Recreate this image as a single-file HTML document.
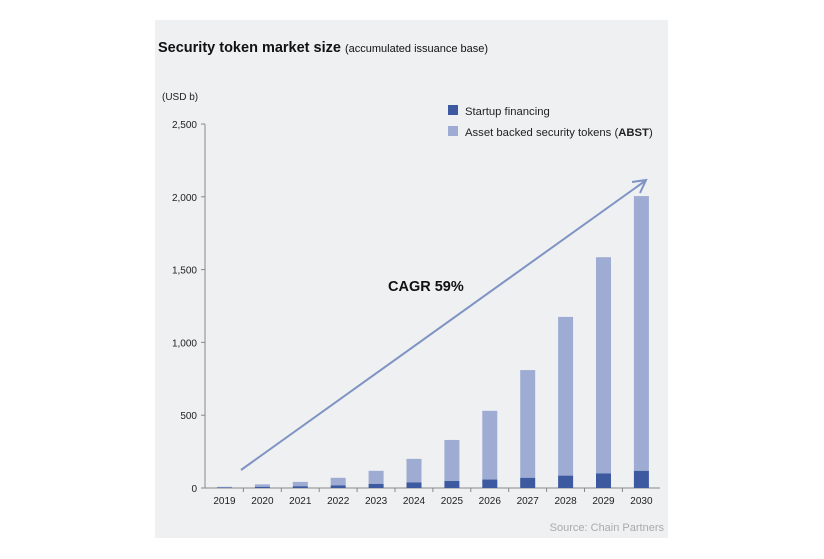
<!DOCTYPE html>
<html><head><meta charset="utf-8"><style>
body{margin:0;background:#fff;width:824px;height:554px;overflow:hidden;font-family:"Liberation Sans",sans-serif}
</style></head><body>
<svg width="824" height="554" xmlns="http://www.w3.org/2000/svg" id="svg">
<rect x="155" y="20" width="513" height="518" fill="#eef0f1"/>
<text x="158" y="52" font-size="14.5" font-weight="bold" fill="#111">Security token market size <tspan font-size="11" font-weight="normal">(accumulated issuance base)</tspan></text>
<text x="162" y="100" font-size="10" fill="#222">(USD b)</text>
<rect x="448" y="105" width="10" height="10" fill="#3d5aa0"/>
<text x="465" y="115" font-size="11.3" fill="#222">Startup financing</text>
<rect x="448" y="126" width="10" height="10" fill="#9eacd3"/>
<text x="465" y="136" font-size="11.3" fill="#222">Asset backed security tokens (<tspan font-weight="bold">ABST</tspan>)</text>
<g id="axes"></g><g id="bars"></g>
<line x1="241" y1="470" x2="645" y2="181" stroke="#7f93c4" stroke-width="2"/>
<polyline points="632,182 646,180 640,193" fill="none" stroke="#7f93c4" stroke-width="2"/>
<text x="388" y="291" font-size="14.5" font-weight="bold" fill="#111">CAGR 59%</text>
<text x="664" y="531" font-size="11" fill="#aaa" text-anchor="end">Source: Chain Partners</text>
</svg>
<script>
const categories=["2019","2020","2021","2022","2023","2024","2025","2026","2027","2028","2029","2030"];
const startup=[3,8,12,18,28,38,48,58,70,85,100,118];
const totals=[8,25,42,70,118,200,330,530,810,1175,1585,2005];
const yTicks=[0,500,1000,1500,2000,2500];
const yTickLabels=["0","500","1,000","1,500","2,000","2,500"];
const NS="http://www.w3.org/2000/svg";
const y=v=>488-v*(364/2500);
const x=i=>224.5+i*37.9;
function mk(t,a,p){const e=document.createElementNS(NS,t);for(const k in a)e.setAttribute(k,a[k]);p.appendChild(e);return e;}
const ax=document.getElementById('axes'),bg=document.getElementById('bars');
let l=mk('line',{x1:205,y1:124,x2:205,y2:488,stroke:'#888'},ax);


yTicks.forEach((v,i)=>{
 let t=mk('line',{x1:201,x2:205,y1:y(v),y2:y(v),stroke:'#888'},ax);
 
 
 let tx=mk('text',{x:197,y:y(v)+4,'font-size':10,'text-anchor':'end',fill:'#222'},ax);tx.textContent=yTickLabels[i];
 
 
});
l=mk('line',{x1:205,y1:488,x2:660,y2:488,stroke:'#888'},ax);


categories.forEach((c,i)=>{
 if(i>0){let t=mk('line',{x1:x(i)-19,x2:x(i)-19,y1:488,y2:492,stroke:'#888'},ax);
 
 }
 let tx=mk('text',{x:x(i),y:504,'font-size':10,'text-anchor':'middle',fill:'#222'},ax);tx.textContent=c;
 
 
 let b=mk('rect',{x:x(i)-7.5,width:15,y:y(totals[i]),height:y(startup[i])-y(totals[i]),fill:'#9eacd3'},bg);
 
 
 let s=mk('rect',{x:x(i)-7.5,width:15,y:y(startup[i]),height:488-y(startup[i]),fill:'#3d5aa0'},bg);
 
 
});
</script>
</body></html>
